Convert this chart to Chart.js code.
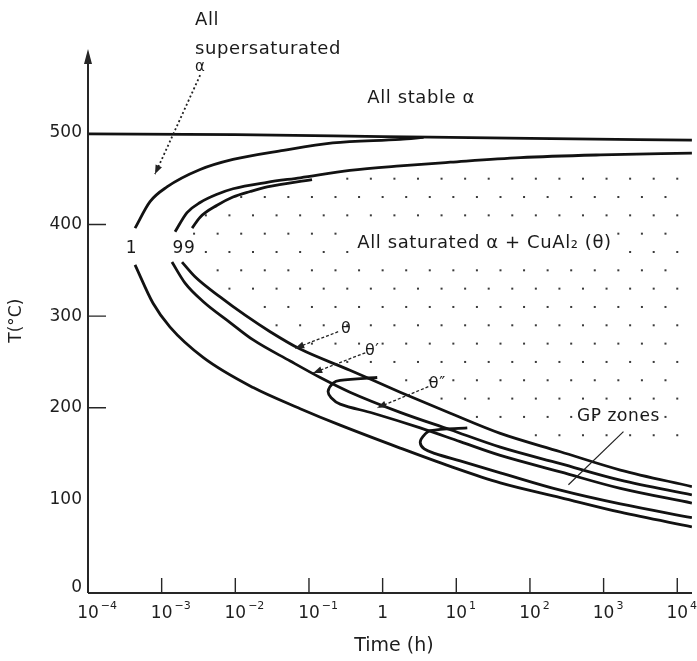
<!DOCTYPE html>
<html>
<head>
<meta charset="utf-8">
<script src="https://cdn.jsdelivr.net/npm/chart.js@4"></script>
<style>
  html, body { margin: 0; padding: 0; background: #fff; }
  #wrap { width: 697px; height: 661px; position: relative; }
</style>
</head>
<body>
<div id="wrap"><canvas id="ttt"></canvas></div>
<script>
// [time (h), temperature (°C)]
const solvus = [[1e-4, 499], [1e-2, 498], [1, 496], [100, 494], [15800, 492]];

// outer C-curve ("1")
const curve1Upper = [[4.35e-4, 396], [6.95e-4, 425], [1.18e-3, 441], [3.33e-3, 460], [9.3e-3, 471],
  [0.045, 481], [0.21, 489], [1.73, 493], [3.6, 495]];
const curve1Lower = [[4.35e-4, 356], [7.64e-4, 314], [1.3e-3, 288], [3.65e-3, 255], [0.0175, 222],
  [0.076, 199], [0.265, 181], [1.73, 156], [8.3, 136], [39.6, 118], [259, 102], [1690, 86], [15800, 70]];

// the two "99" curves (theta' and theta)
const thetaPrimeUpper = [[1.52e-3, 392], [2.21e-3, 413], [3.33e-3, 424], [5.66e-3, 433], [9.3e-3, 439],
  [0.027, 446], [0.076, 451], [0.36, 459], [1.73, 464], [8.3, 468], [74, 473], [906, 476], [15800, 478]];
const thetaPrimeLower = [[1.38e-3, 359], [2.08e-3, 336], [3.65e-3, 316], [8.5e-3, 293], [0.0175, 274],
  [0.0556, 251], [0.142, 233], [0.36, 217], [1.73, 195], [8.3, 176], [39.6, 157], [259, 139], [1690, 121], [15800, 105]];
const thetaUpper = [[2.59e-3, 396], [3.33e-3, 408], [5.66e-3, 421], [9.3e-3, 430], [0.0159, 436],
  [0.027, 441], [0.11, 449]];
const thetaLower = [[1.89e-3, 359], [2.84e-3, 343], [6.21e-3, 321], [0.0136, 301], [0.0297, 283],
  [0.076, 264], [0.36, 241], [1.73, 217], [8.3, 194], [39.6, 172], [259, 152], [1690, 132], [15800, 114]];

// theta'' loop and GP zone loop (cap -> nose -> lower branch)
const thetaDoublePrime = [[0.845, 233], [0.265, 230], [0.213, 227], [0.182, 218], [0.2, 211], [0.265, 204],
  [0.745, 194], [3.24, 178], [11.3, 163], [39.6, 148], [259, 130], [1690, 112], [15800, 96]];
const gpZones = [[14.1, 178], [4.43, 175], [3.56, 169], [3.24, 162], [3.67, 155], [5.18, 150],
  [11.3, 142], [39.6, 129], [259, 110], [1690, 95], [15800, 80]];

const xTicks = [1e-4, 1e-3, 1e-2, 1e-1, 1, 10, 100, 1000, 10000];
const xTickExp = ['\u22124', '\u22123', '\u22122', '\u22121', null, '1', '2', '3', '4'];
const yTicks = [0, 100, 200, 300, 400, 500];
const yTickMarks = [200, 300, 400];

const FONT = '"DejaVu Sans", "Liberation Sans", sans-serif';
const INK = '#121212';

// text notes, placed in data coordinates
const notes = [
  { text: 'All', t: 2.84e-3, T: 618, size: 18 },
  { text: 'supersaturated', t: 2.84e-3, T: 586, size: 18 },
  { text: 'α', t: 2.84e-3, T: 567, size: 15 },
  { text: 'All stable α', t: 0.618, T: 533, size: 18 },
  { text: 'All saturated α + CuAl₂ (θ)', t: 0.452, T: 374, size: 18, clearDots: true },
  { text: '1', t: 3.9e-4, T: 369, size: 17, align: 'center' },
  { text: '99', t: 2.01e-3, T: 369, size: 17, align: 'center' },
  { text: 'θ', t: 0.32, T: 282, size: 16, align: 'center' },
  { text: 'θ′', t: 0.723, T: 258, size: 16, align: 'center' },
  { text: 'θ″', t: 5.52, T: 222, size: 16, align: 'center' },
  { text: 'GP zones', t: 1590, T: 185, size: 17, align: 'center' }
];
const pointers = [
  { from: [3.33e-3, 563], to: [8.13e-4, 455], dash: [2, 2.5], width: 1.8, head: true },
  { from: [0.249, 283], to: [0.0649, 265], dash: [3, 2], width: 1.3, head: true },
  { from: [0.581, 260], to: [0.114, 238], dash: [3, 2], width: 1.3, head: true },
  { from: [4.17, 223], to: [0.845, 200], dash: [3, 2], width: 1.3, head: true },
  { from: [1860, 174], to: [333, 116], dash: [], width: 1.2, head: false }
];

function pts(arr) { return arr.map(p => ({ x: p[0], y: p[1] })); }
// branches run left to right, so monotone splines keep them smooth
function branch(arr) {
  return { data: pts(arr), showLine: true, pointRadius: 0, borderColor: INK,
    borderWidth: 2.8, cubicInterpolationMode: 'monotone', fill: false };
}
function loop(arr) {
  return { data: pts(arr), showLine: true, pointRadius: 0, borderColor: INK,
    borderWidth: 2.8, tension: 0.35, fill: false };
}

const frame = {
  id: 'frame',
  beforeDatasetsDraw(chart) {
    const ctx = chart.ctx, xs = chart.scales.x, ys = chart.scales.y;
    const px = p => [xs.getPixelForValue(p[0]), ys.getPixelForValue(p[1])];
    // stippled region inside the theta curve
    const region = new Path2D();
    const up = thetaPrimeUpper.slice().reverse().map(px);
    const lo = thetaLower.map(px);
    up.concat(lo).forEach((p, i) => i ? region.lineTo(p[0], p[1]) : region.moveTo(p[0], p[1]));
    region.closePath();
    const boxes = [];
    ctx.save();
    notes.filter(n => n.clearDots).forEach(n => {
      ctx.font = n.size + 'px ' + FONT;
      const w = ctx.measureText(n.text).width + 16;
      const [x, y] = px([n.t, n.T]);
      boxes.push([x - 8, y - 20, x + w, y + 8]);
    });
    ctx.fillStyle = '#3a3a3a';
    for (let r = 0; r < 16; r++) {
      const T = 470 - r * 20;
      for (let c = 0; c < 24; c++) {
        const lt = -3.2 + c * 0.32 + (r % 2) * 0.16;
        const x = xs.getPixelForValue(Math.pow(10, lt)), y = ys.getPixelForValue(T);
        const inside = [[0, 0], [7, 0], [-7, 0], [0, 7], [0, -7]]
          .every(d => ctx.isPointInPath(region, x + d[0], y + d[1]));
        if (!inside) continue;
        if (boxes.some(b => x > b[0] && x < b[2] && y > b[1] && y < b[3])) continue;
        ctx.fillRect(x - 1, y - 1, 2, 2);
      }
    }
    ctx.restore();
  },
  afterDatasetsDraw(chart) {
    const ctx = chart.ctx, xs = chart.scales.x, ys = chart.scales.y, area = chart.chartArea;
    const px = p => [xs.getPixelForValue(p[0]), ys.getPixelForValue(p[1])];
    const axisY = ys.getPixelForValue(0) + 2;
    ctx.save();
    ctx.strokeStyle = '#262626';
    ctx.fillStyle = '#262626';
    ctx.lineWidth = 2;
    ctx.beginPath();
    ctx.moveTo(area.left, axisY);
    ctx.lineTo(area.right, axisY);
    ctx.moveTo(area.left, axisY);
    ctx.lineTo(area.left, area.top - 2);
    ctx.stroke();
    ctx.beginPath();
    ctx.moveTo(area.left, area.top - 6);
    ctx.lineTo(area.left - 4, area.top + 9);
    ctx.lineTo(area.left + 4, area.top + 9);
    ctx.closePath();
    ctx.fill();

    ctx.lineWidth = 1.4;
    ctx.beginPath();
    xTicks.forEach(v => {
      const x = xs.getPixelForValue(v);
      ctx.moveTo(x, axisY);
      ctx.lineTo(x, axisY - 15);
    });
    yTickMarks.forEach(v => {
      const y = ys.getPixelForValue(v);
      ctx.moveTo(area.left, y);
      ctx.lineTo(area.left + 18, y);
    });
    ctx.stroke();

    ctx.fillStyle = '#1e1e1e';
    ctx.textBaseline = 'middle';
    ctx.font = '17px ' + FONT;
    ctx.textAlign = 'right';
    yTicks.forEach(v => {
      ctx.fillText(String(v), area.left - 6, ys.getPixelForValue(v) - (v === 0 ? 3 : 0));
    });
    xTicks.forEach((v, i) => {
      const x = xs.getPixelForValue(v);
      const base = xTickExp[i] === null ? '1' : '10';
      ctx.font = '17px ' + FONT;
      ctx.textAlign = 'center';
      ctx.fillText(base, x, axisY + 21);
      if (xTickExp[i] !== null) {
        const w = ctx.measureText(base).width;
        ctx.font = '11px ' + FONT;
        ctx.textAlign = 'left';
        ctx.fillText(xTickExp[i], x + w / 2 + 2, axisY + 13);
      }
    });

    ctx.font = '19px ' + FONT;
    ctx.textAlign = 'center';
    ctx.fillText('Time (h)', (area.left + area.right) / 2 + 4, area.bottom + 55);
    ctx.save();
    ctx.translate(17, ys.getPixelForValue(295));
    ctx.rotate(-Math.PI / 2);
    ctx.font = '17px ' + FONT;
    ctx.fillText('T(°C)', 0, 0);
    ctx.restore();

    // pointers
    pointers.forEach(p => {
      const [x1, y1] = px(p.from), [x2, y2] = px(p.to);
      ctx.strokeStyle = '#222';
      ctx.lineWidth = p.width;
      ctx.setLineDash(p.dash);
      ctx.beginPath();
      ctx.moveTo(x1, y1);
      ctx.lineTo(x2, y2);
      ctx.stroke();
      ctx.setLineDash([]);
      if (p.head) {
        const a = Math.atan2(y2 - y1, x2 - x1);
        ctx.fillStyle = '#222';
        ctx.beginPath();
        ctx.moveTo(x2, y2);
        ctx.lineTo(x2 - 9 * Math.cos(a) + 3.5 * Math.sin(a), y2 - 9 * Math.sin(a) - 3.5 * Math.cos(a));
        ctx.lineTo(x2 - 9 * Math.cos(a) - 3.5 * Math.sin(a), y2 - 9 * Math.sin(a) + 3.5 * Math.cos(a));
        ctx.closePath();
        ctx.fill();
      }
    });

    // notes
    ctx.fillStyle = '#1a1a1a';
    ctx.textBaseline = 'alphabetic';
    notes.forEach(n => {
      const [x, y] = px([n.t, n.T]);
      ctx.font = n.size + 'px ' + FONT;
      ctx.letterSpacing = '0.6px';
      ctx.textAlign = n.align || 'left';
      ctx.fillText(n.text, x, y);
    });
    ctx.restore();
  }
};

new Chart(document.getElementById('ttt'), {
  type: 'scatter',
  data: {
    datasets: [
      branch(solvus),
      branch(curve1Upper),
      branch(curve1Lower),
      branch(thetaPrimeUpper),
      branch(thetaPrimeLower),
      branch(thetaUpper),
      branch(thetaLower),
      loop(thetaDoublePrime),
      loop(gpZones)
    ]
  },
  options: {
    responsive: true,
    maintainAspectRatio: false,
    animation: false,
    layout: { padding: { left: 88, right: 5, top: 55, bottom: 70 } },
    scales: {
      x: { type: 'logarithmic', min: 1e-4, max: 15850, display: false },
      y: { type: 'linear', min: 0, max: 585, display: false }
    },
    plugins: { legend: { display: false }, tooltip: { enabled: false } }
  },
  plugins: [frame]
});
</script>
</body>
</html>
